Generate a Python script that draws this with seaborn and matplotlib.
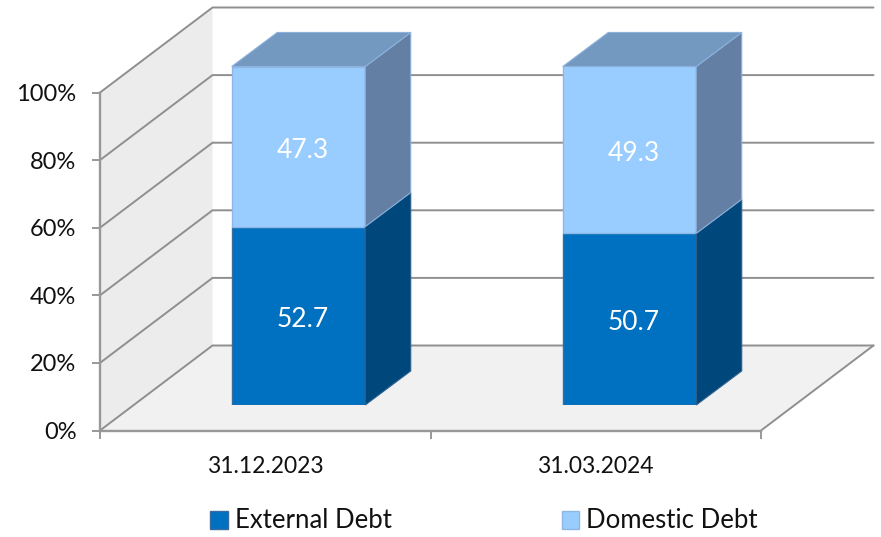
import matplotlib
matplotlib.use('Agg')
import seaborn as sns
import matplotlib.pyplot as plt
from matplotlib.patches import Polygon, Patch

categories = ['31.12.2023', '31.03.2024']
external_debt = [52.7, 50.7]
domestic_debt = [47.3, 49.3]
y_ticks = [0, 20, 40, 60, 80, 100]

W, H = 881, 537
GRID = '#8f8f8f'
AXIS = '#989898'

sns.set_theme(style='white')
plt.rcParams['font.family'] = ['Lato', 'DejaVu Sans']

fig = plt.figure(figsize=(W / 100, H / 100), dpi=100, facecolor='white')


def px_rect(left, top, right, bottom):
    return [left / W, 1 - bottom / H, (right - left) / W, (bottom - top) / H]


# front plane of the box, holds the axis and the walls
ax = fig.add_axes(px_rect(100, 92.5, 761, 430.5))
ax.set_xlim(-0.5, 1.5)
ax.set_ylim(0, 100)
# bars stand further back in the box
bar_ax = fig.add_axes(px_rect(133, 66.5, 795, 405))
bar_ax.set_zorder(ax.get_zorder() + 1)
bar_ax.patch.set_alpha(0)

# depth of the box and of the bars, in data units
box_dx = 112.5 / (661 / 2)
box_dy = 85 / 338 * 100
bar_dx = 45.5 / (662 / 2)
bar_dy = 34 / 338 * 100

x0, x1 = -0.5, 1.5
ax.add_patch(Polygon([(x0, 0), (x0 + box_dx, box_dy), (x0 + box_dx, 100 + box_dy), (x0, 100)],
                     closed=True, fc='#ececec', ec='none', clip_on=False, zorder=1))
ax.add_patch(Polygon([(x0, 0), (x1, 0), (x1 + box_dx, box_dy), (x0 + box_dx, box_dy)],
                     closed=True, fc='#f1f1f1', ec='none', clip_on=False, zorder=1))

for t in y_ticks:
    ax.plot([x0, x0 + box_dx, x1 + box_dx], [t, t + box_dy, t + box_dy], color=GRID, lw=1.4,
            clip_on=False, zorder=2, solid_joinstyle='miter')
# right edge of the floor
ax.plot([x1, x1 + box_dx], [0, box_dy], color=GRID, lw=1.4, clip_on=False, zorder=2)

ax.set_yticks(y_ticks)
ax.set_yticklabels([f'{t}%' for t in y_ticks], va='center_baseline')
ax.set_xticks([0, 1])
ax.set_xticklabels(categories)
ax.set_xticks([-0.5, 0.5, 1.5], minor=True)
ax.tick_params(axis='y', length=6, width=1.4, color=AXIS, left=True, pad=11, labelsize=17, labelcolor='#111111')
ax.tick_params(axis='x', which='major', length=0, pad=18.5, labelsize=16.5, labelcolor='#111111', bottom=False)
ax.tick_params(axis='x', which='minor', length=6, width=1.4, color=AXIS, bottom=True)
for side in ['top', 'right']:
    ax.spines[side].set_visible(False)
for side in ['left', 'bottom']:
    ax.spines[side].set_color(AXIS)
    ax.spines[side].set_linewidth(1.7)
    ax.spines[side].set_zorder(3)

# stacked bars
sns.barplot(x=categories, y=external_debt, ax=bar_ax, color='#0070c0', saturation=1,
            width=133.5 / (662 / 2), edgecolor='#3a6b9e', linewidth=1)
n_ext = len(bar_ax.patches)
sns.barplot(x=categories, y=domestic_debt, bottom=external_debt, ax=bar_ax, color='#99ccff', saturation=1,
            width=133.5 / (662 / 2), edgecolor='#8db8e6', linewidth=1)
bar_ax.set_xlim(-0.5, 1.5)
bar_ax.set_ylim(0, 100)
bar_ax.axis('off')

values = external_debt + domestic_debt
for i, (bar, value) in enumerate(zip(list(bar_ax.patches), values)):
    x, y, w, h = bar.get_x(), bar.get_y(), bar.get_width(), bar.get_height()
    is_top = i >= n_ext
    side_color = '#637fa3' if is_top else '#00487c'
    side_edge = '#8db0dc' if is_top else '#32608f'
    bar_ax.add_patch(Polygon([(x + w, y), (x + w + bar_dx, y + bar_dy), (x + w + bar_dx, y + h + bar_dy), (x + w, y + h)],
                             closed=True, fc=side_color, ec=side_edge, lw=0.8, clip_on=False, zorder=1))
    if is_top:
        bar_ax.add_patch(Polygon([(x, y + h), (x + w, y + h), (x + w + bar_dx, y + h + bar_dy), (x + bar_dx, y + h + bar_dy)],
                                 closed=True, fc='#7499c1', ec='#8db0dc', lw=0.8, clip_on=False, zorder=1))
    bar_ax.annotate(f'{value}', xy=(x + w / 2, y + h / 2), xytext=(3, -2.5), textcoords='offset points',
                    ha='center', va='center', color='white', fontsize=19, zorder=5)

handles = [Patch(fc='#0070c0', ec='#3a6b9e', label='External Debt'),
           Patch(fc='#99ccff', ec='#8db8e6', label='Domestic Debt')]
fig.legend(handles=handles, loc='center left', bbox_to_anchor=(187 / W, 1 - 521 / H), ncol=2, frameon=False,
           fontsize=18.5, handlelength=0.7, handleheight=0.7, handletextpad=0.27, columnspacing=6.6,
           labelcolor='#111111')

fig.savefig('out.png', dpi=100)
